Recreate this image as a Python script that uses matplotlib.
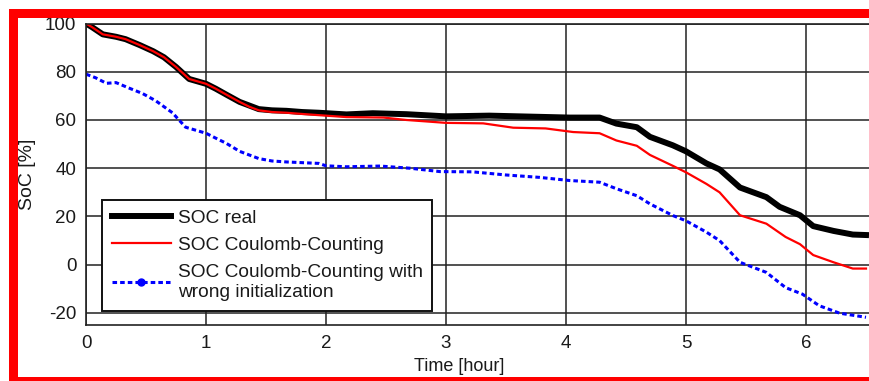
import numpy as np
import matplotlib
matplotlib.use("Agg")
import matplotlib.pyplot as plt
from matplotlib.lines import Line2D
from matplotlib.patches import Rectangle

plt.rcParams['font.family'] = ['Liberation Sans', 'DejaVu Sans']
plt.rcParams['axes.unicode_minus'] = False

# SOC real (black)
t_real = [0, 0.05, 0.14, 0.25, 0.33, 0.45, 0.56, 0.65, 0.75, 0.86, 1.0, 1.08,
          1.17, 1.28, 1.36, 1.44, 1.55, 1.67, 1.8, 1.94, 2.17, 2.39, 2.67, 3.0,
          3.36, 3.78, 4.03, 4.28, 4.42, 4.59, 4.70, 4.89, 5.0, 5.17, 5.28, 5.45,
          5.67, 5.78, 5.95, 6.06, 6.23, 6.39, 6.5]
soc_real = [100, 98.5, 95.5, 94.5, 93.5, 91, 88.5, 86, 82, 77, 75, 73,
            70.5, 67.5, 66, 64.5, 64, 63.8, 63.3, 63, 62.3, 62.8, 62.4, 61.5,
            61.8, 61.3, 61, 61, 58.5, 57, 53, 49.5, 47, 42, 39.5, 32,
            28, 24, 20.5, 16, 14, 12.5, 12.3]

# SOC Coulomb-Counting (red)
t_cc = [0, 0.05, 0.14, 0.25, 0.33, 0.45, 0.56, 0.65, 0.75, 0.86, 1.0, 1.08,
        1.17, 1.28, 1.36, 1.44, 1.55, 1.67, 1.8, 1.94, 2.17, 2.48, 2.67, 3.0,
        3.31, 3.56, 3.83, 4.06, 4.28, 4.42, 4.59, 4.70, 4.89, 5.0, 5.17, 5.28,
        5.45, 5.67, 5.83, 5.95, 6.06, 6.23, 6.39, 6.5]
soc_cc = [100, 98.5, 95.5, 94.5, 93.5, 91, 88.5, 86, 82, 77, 75, 73,
          70.5, 67.5, 65.5, 64, 63.3, 63, 62.5, 62, 61.2, 61, 60, 58.8,
          58.6, 56.8, 56.5, 55, 54.5, 51.5, 49.3, 45.5, 41, 38.3, 33.5, 30,
          20.5, 17, 11.5, 8.5, 4, 1, -1.6, -1.6]

# SOC Coulomb-Counting with wrong initialization (blue)
t_wrong = [0, 0.08, 0.17, 0.25, 0.36, 0.47, 0.58, 0.65, 0.72, 0.83, 1.0, 1.08,
           1.17, 1.28, 1.36, 1.44, 1.55, 1.67, 1.94, 2.0, 2.17, 2.45, 2.7, 2.95,
           3.22, 3.5, 3.78, 4.03, 4.28, 4.42, 4.59, 4.70, 4.89, 5.0, 5.17, 5.28,
           5.45, 5.67, 5.83, 5.97, 6.11, 6.28, 6.5]
soc_wrong = [79, 77.5, 75.2, 75.5, 73.2, 71, 68, 65.5, 63, 57, 54.5, 52.5,
             50.3, 47, 45.5, 44, 43, 42.6, 42, 41, 40.6, 40.9, 40, 38.6,
             38.5, 37.2, 36.2, 34.9, 34.2, 31.5, 28.6, 25.2, 20.4, 18.2, 13.5, 10,
             1, -3.2, -9.5, -12.2, -17, -20.1, -21.8]

x_ticks = [0, 1, 2, 3, 4, 5, 6]
y_ticks = [-20, 0, 20, 40, 60, 80, 100]

W, H = 869, 381
fig = plt.figure(figsize=(W / 100, H / 100), dpi=100)
ax = fig.add_axes([86 / W, (H - 325) / H, 788 / W, 301.5 / H])

ax.plot(t_real, soc_real, color='black', lw=4.3, solid_joinstyle='round')
ax.plot(t_cc, soc_cc, color='red', lw=1.6)
ax.plot(t_wrong, soc_wrong, color='blue', lw=2.2, ls=(0, (1.5, 1.0)))

ax.set_xlim(0, 788 / 120)
ax.set_ylim(-25, 100)
ax.set_xticks(x_ticks)
ax.set_yticks(y_ticks)
ax.grid(True, color='#222222', lw=1.1)
ax.tick_params(direction='in', length=0, labelsize=13.5, pad=7, colors='#1a1a1a')
for s in ax.spines.values():
    s.set_color('#222222')
    s.set_linewidth(1.2)

ax.set_ylabel('SoC [%]', fontsize=14, color='#1a1a1a')
ax.yaxis.set_label_coords((36 - 86) / 788, 0.5)
ax.set_xlabel('Time [hour]', fontsize=13, color='#1a1a1a')
ax.xaxis.set_label_coords((459 - 86) / 788, -(358 - 325) / 301.5)

handles = [
    Line2D([], [], color='black', lw=4.3),
    Line2D([], [], color='red', lw=1.6),
    Line2D([], [], color='blue', lw=2.2, ls=(0, (1.5, 1.0)), marker='o', ms=5),
]
labels = ['SOC real', 'SOC Coulomb-Counting',
          'SOC Coulomb-Counting with\nwrong initialization']
leg = ax.legend(handles, labels, loc='lower left',
                bbox_to_anchor=((102 - 86) / 788, 14 / 301.5),
                borderaxespad=0, fontsize=13.8, handlelength=3.1,
                handletextpad=0.35, borderpad=0.5, labelspacing=0.5,
                numpoints=1, fancybox=False, framealpha=1,
                edgecolor='#111111')
leg.get_frame().set_linewidth(1.4)
for txt in leg.get_texts():
    txt.set_color('#1a1a1a')
    txt.set_linespacing(1.3)

# red frame around the picture
red = '#ff0000'
fig.add_artist(Rectangle((9 / W, 0), 9 / W, (H - 9) / H,
                         transform=fig.transFigure, color=red, lw=0))
fig.add_artist(Rectangle((9 / W, (H - 18) / H), 1, 9 / H,
                         transform=fig.transFigure, color=red, lw=0))
fig.add_artist(Rectangle((9 / W, 0), 1, 4 / H,
                         transform=fig.transFigure, color=red, lw=0))

fig.savefig('out.png', dpi=100)
